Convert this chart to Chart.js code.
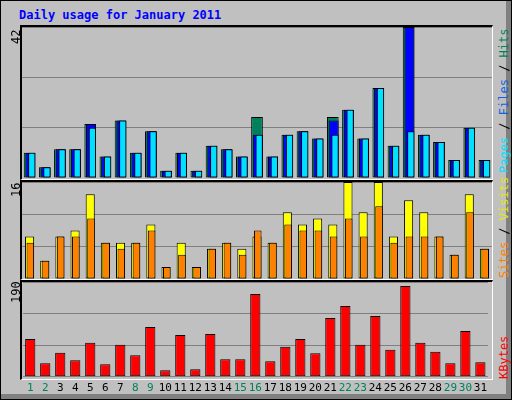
<!DOCTYPE html>
<html><head><meta charset="utf-8">
<script src="https://cdn.jsdelivr.net/npm/chart.js@4"></script>
<style>
body{margin:0;background:#fff}
#wrap{position:absolute;left:0;top:0;width:510px;height:398px;background:#c0c0c0;border:1px solid #000;overflow:hidden}
#wrap:before{content:"";position:absolute;right:0;top:0;width:5px;height:100%;background:#808080}
#wrap:after{content:"";position:absolute;left:0;bottom:0;height:5px;width:100%;background:#808080}
.frame{position:absolute;border-left:2px solid #000;border-top:2px solid #000;border-right:1px solid #fff;border-bottom:1px solid #fff;box-sizing:border-box}
canvas{position:absolute}
.t{position:absolute;font:bold 12px "DejaVu Sans Mono",monospace;color:#0000ff;white-space:nowrap}
.v{position:absolute;font:12px "DejaVu Sans Mono",monospace;white-space:nowrap;transform-origin:0 0;transform:rotate(-90deg)}
</style></head><body>
<div id="wrap">
<div class="t" style="left:18px;top:7px">Daily usage for January 2011</div>
<div class="frame" style="left:19px;top:24px;width:473px;height:155px"></div>
<div class="frame" style="left:19px;top:179px;width:473px;height:100px"></div>
<div class="frame" style="left:19px;top:279px;width:473px;height:100px"></div>
<canvas id="c1" style="left:21px;top:26px;width:470px;height:151px"></canvas>
<canvas id="c2" style="left:21px;top:181px;width:470px;height:97px"></canvas>
<canvas id="c3" style="left:21px;top:281px;width:470px;height:118px"></canvas>
<div class="v" style="left:8px;top:43px">42</div>
<div class="v" style="left:8px;top:196px">16</div>
<div class="v" style="left:8px;top:302px">190</div>
<div class="v" style="left:496px;top:172px"><span style="color:#00e0ff">Pages</span> / <span style="color:#1060e0">Files</span> / <span style="color:#00805c">Hits</span></div>
<div class="v" style="left:496px;top:277px"><span style="color:#ff8000">Sites</span> / <span style="color:#e8e800">Visits</span></div>
<div class="v" style="left:496px;top:378px"><span style="color:#ff0000">KBytes</span></div>
</div>
<script>
const days=['1','2','3','4','5','6','7','8','9','10','11','12','13','14','15','16','17','18','19','20','21','22','23','24','25','26','27','28','29','30','31'];
const weekend=[1,2,8,9,15,16,22,23,29,30];
const hits=[7,3,8,8,15,6,16,7,13,2,7,2,9,8,6,17,6,12,13,11,17,19,11,25,9,42,12,10,5,14,5];
const files=[7,3,8,8,15,6,16,7,13,2,7,2,9,8,6,12,6,12,13,11,16,19,11,25,9,42,12,10,5,14,5];
const pages=[7,3,8,8,14,6,16,7,13,2,7,2,9,8,6,12,6,12,13,11,12,19,11,25,9,13,12,10,5,14,5];
const visits=[7,3,7,8,14,6,6,6,9,2,6,2,5,6,5,7,6,11,9,10,9,16,11,16,7,13,11,7,4,14,5];
const sites=[6,3,7,7,10,6,5,6,8,2,4,2,5,6,4,8,6,9,8,8,7,10,7,12,6,7,7,7,4,11,5];
const kbytes=[76,27,48,33,68,25,64,43,100,13,84,15,86,35,35,166,31,60,76,47,118,142,64,122,54,182,68,50,27,92,29];
const maxTop=42,maxMid=16,maxBot=190;

const alignRight={id:'alignRight',
 beforeDatasetDraw(chart,args){const ref=chart.getDatasetMeta(0).data[0];const me=args.meta.data[0];
  const dx=(ref.width-me.width)/2;chart.ctx.save();chart.ctx.translate(dx,0);},
 afterDatasetDraw(chart){chart.ctx.restore();}};

function yScale(max){return {min:0,max:max,display:true,border:{display:false},
 grid:{color:'#808080',lineWidth:1,drawTicks:false},ticks:{display:false},
 afterBuildTicks(s){s.ticks=[{value:0},{value:max/3},{value:2*max/3},{value:max}];},
 afterFit(s){s.width=0;}};}
function ds(data,color,bp,order){return {data:data,backgroundColor:color,borderColor:'#000',borderWidth:1,barPercentage:bp,categoryPercentage:1,grouped:false,borderSkipped:false,order:order};}
function make(id,sets,max,showX){
 return new Chart(document.getElementById(id),{type:'bar',
  data:{labels:days,datasets:sets},
  options:{responsive:false,animation:false,events:[],
   layout:{padding:0},
   plugins:{legend:{display:false},tooltip:{enabled:false}},
   scales:{x:{display:showX,offset:true,grid:{display:false,drawTicks:false},border:{display:false},
     ticks:{autoSkip:false,maxRotation:0,padding:5,font:{family:'DejaVu Sans Mono',size:11},
      color:c=>weekend.includes(c.index+1)?'#00805c':'#000'}},
    y:yScale(max)}},
  plugins:[alignRight]});}
function sizeCanvas(id,w,h){const c=document.getElementById(id);c.width=w;c.height=h;}
sizeCanvas('c1',470,151);sizeCanvas('c2',470,97);sizeCanvas('c3',470,118);
make('c1',[ds(hits,'#00805c',0.77,3),ds(files,'#0000ff',0.66,2),ds(pages,'#00e0ff',0.48,1)],maxTop,false);
make('c2',[ds(visits,'#ffff00',0.6,2),ds(sites,'#ff8000',0.5,1)],maxMid,false);
make('c3',[ds(kbytes,'#ff0000',0.68,1)],maxBot,true);
</script></body></html>
